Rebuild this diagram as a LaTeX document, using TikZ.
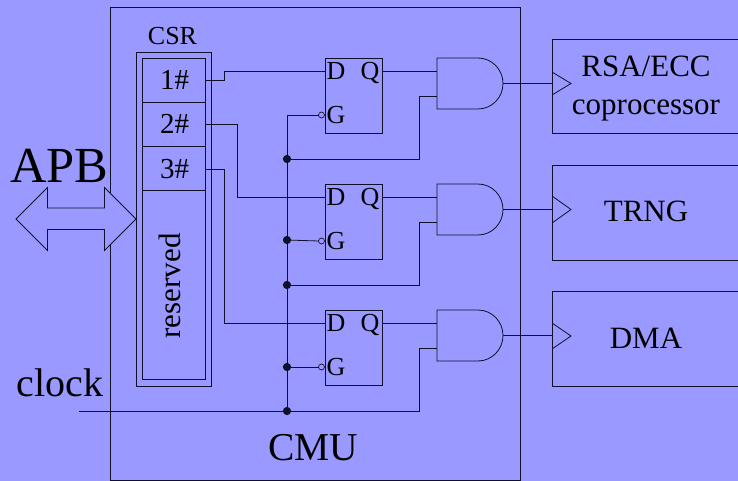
\documentclass[tikz,border=0pt]{standalone}
\usepackage{fontspec}
\setmainfont{Liberation Serif}
\usetikzlibrary{calc}
\newcommand{\pxfont}[1]{\fontsize{\the\dimexpr #1pt*3/4\relax}{\the\dimexpr #1pt*9/10\relax}\selectfont}
\definecolor{bgblue}{HTML}{9999FF}
\definecolor{ink}{HTML}{10102A}
\tikzset{
  wire/.style={draw=ink,line width=0.6pt},
  boxnode/.style={draw=ink,line width=0.6pt,inner sep=0pt,outer sep=0pt},
  dot/.style={circle,fill=ink,inner sep=0pt,minimum size=6.2pt,outer sep=0pt},
  bubble/.style={circle,draw=ink,fill=bgblue,line width=0.5pt,inner sep=0pt,minimum size=4.5pt,outer sep=0pt},
  lbl/.style={inner sep=0pt,outer sep=0pt,text=black,anchor=base},
  tri/.style={draw=ink,line width=0.6pt,line join=miter},
}
\newcommand{\sizedbox}[6]{% name, x1, y1, x2, y2, opts
  \node[boxnode,#6,minimum width={(#4-#2)*0.75pt},minimum height={(#5-#3)*0.75pt}] (#1) at ({(#2+#4)/2},{(#3+#5)/2}) {};}
\newcommand{\flipflop}[2]{% name, top y
  \sizedbox{#1}{325}{#2}{382}{#2+75.5}{}
  \coordinate (#1d) at (325,#2+13);
  \coordinate (#1q) at (382,#2+13);
  \coordinate (#1g) at (325,#2+57);
  \node[lbl] (#1D) at (336,#2+21.5) {\pxfont{26}D};
  \node[lbl] (#1Q) at (370,#2+21.5) {\pxfont{26}Q};
  \node[lbl] (#1G) at (336,#2+65.5) {\pxfont{26}G};
  \node[bubble] (#1b) at (321.5,#2+57) {};}
\newcommand{\andgate}[2]{% name, top y
  \draw[wire] (437,#2) -- (478,#2) arc[start angle=-90,end angle=90,x radius=25,y radius=25.5] -- (437,#2+51) -- cycle;
  \coordinate (#1a) at (437,#2+13);
  \coordinate (#1b) at (437,#2+38);
  \coordinate (#1o) at (503,#2+25.5);}
\begin{document}
\begin{tikzpicture}[x=0.75pt,y=-0.75pt]
\useasboundingbox (0,0) rectangle (738,481);
\clip (0,0) rectangle (738,481);
\fill[bgblue] (0,0) rectangle (738,481);

% CMU
\sizedbox{cmu}{110.5}{7.5}{520.5}{480}{}
\node[lbl] (cmuL) at (313,460) {\pxfont{39.5}CMU};

% CSR
\sizedbox{csr}{136}{52}{211}{386}{}
\sizedbox{csrin}{142.5}{58.5}{205.5}{379.5}{}
\coordinate (r1) at (205.5,80);
\coordinate (r2) at (205.5,124);
\coordinate (r3) at (205.5,169);
\draw[wire] (142.5,102) -- (205.5,102);
\draw[wire] (142.5,146) -- (205.5,146);
\draw[wire] (142.5,190.5) -- (205.5,190.5);
\node[lbl] (csrL) at (172.5,45) {\pxfont{26}CSR};
\node[lbl] (reg1) at (174.5,90) {\pxfont{29}1\#};
\node[lbl] (reg2) at (174.5,134) {\pxfont{29}2\#};
\node[lbl] (reg3) at (174.5,178) {\pxfont{29}3\#};
\node[lbl,rotate=90] (resv) at (180,286) {\pxfont{31}reserved};

% flip-flops and gates
\flipflop{ffa}{58}
\flipflop{ffb}{184}
\flipflop{ffc}{310}
\andgate{ga}{58}
\andgate{gb}{184}
\andgate{gc}{310}

% output blocks
\sizedbox{rsa}{552}{39.5}{760}{133.5}{}
\sizedbox{trng}{552}{165.5}{760}{260}{}
\sizedbox{dma}{552}{291.5}{760}{386}{}
\node[lbl] (rsaA) at (646,77) {\pxfont{31}RSA/ECC};
\node[lbl] (rsaB) at (646,115) {\pxfont{31}coprocessor};
\node[lbl] (trngL) at (646,221) {\pxfont{31}TRNG};
\node[lbl] (dmaL) at (646,348) {\pxfont{31}DMA};

% inputs of the output blocks
\draw[tri] (552,72) -- (571,83.5) -- (552,95);
\draw[tri] (552,196) -- (571,209.5) -- (552,223);
\draw[tri] (552,323) -- (571,336) -- (552,349);

% register to flip-flop wires
\draw[wire] (r1) -- (224,80) -- (224,71) -- (ffad);
\draw[wire] (r2) -- (237,124) -- (237,197) -- (ffbd);
\draw[wire] (r3) -- (224,169) -- (224,323) -- (ffcd);

% Q outputs
\draw[wire] (ffaq) -- (gaa);
\draw[wire] (ffbq) -- (gba);
\draw[wire] (ffcq) -- (gca);

% gate outputs
\draw[wire] (gao) -- (rsa.west |- gao);
\draw[wire] (gbo) -- (trng.west |- gbo);
\draw[wire] (gco) -- (dma.west |- gco);

% clock bus
\coordinate (clkin) at (79,411);
\node[dot] (j1) at (287,159) {};
\node[dot] (j2) at (287,240) {};
\node[dot] (j3) at (287,285) {};
\node[dot] (j4) at (287,367) {};
\node[dot] (j5) at (287,411) {};
\coordinate (bustop) at (287,115);
\draw[wire] (j5) -- (bustop) -- (ffab.west);
\draw[wire] (j2) -- (ffbb.west);
\draw[wire] (j4) -- (ffcb.west);
\draw[wire] (j1) -- (419.5,159) -- (419.5,96) -- (gab);
\draw[wire] (j3) -- (419.5,285) -- (419.5,222) -- (gbb);
\draw[wire] (clkin) -- (419.5,411) -- (419.5,348) -- (gcb);
\node[lbl] (clkL) at (60,396) {\pxfont{40}clock};

% APB bus arrow
\draw[wire,fill=bgblue,line join=miter]
  (16,219) -- (47.5,187.5) -- (47.5,208) -- (104.5,208) -- (104.5,187.5) -- (136,219)
  -- (104.5,250.5) -- (104.5,229.5) -- (47.5,229.5) -- (47.5,250.5) -- cycle;
\node[lbl] (apbL) at (59.5,182) {\pxfont{50.5}APB};
\end{tikzpicture}
\end{document}
